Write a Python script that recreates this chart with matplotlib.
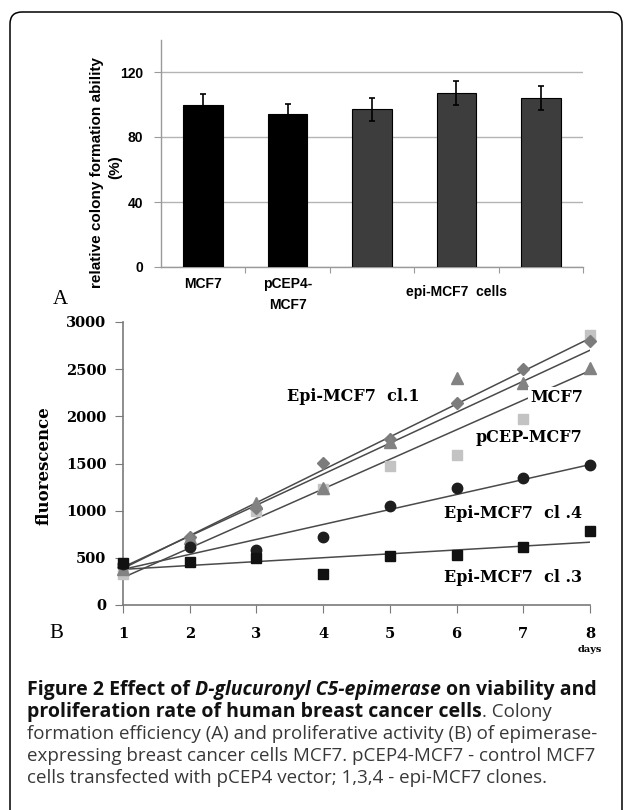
import numpy as np
import matplotlib
matplotlib.use('Agg')
import matplotlib.pyplot as plt
import matplotlib.patches as mpatches
from matplotlib.transforms import IdentityTransform, blended_transform_factory

W, H = 629, 810

# panel A: colony formation
colony = [100, 94, 97, 107, 104]
colony_err = [6.5, 6.5, 7, 7.5, 7.5]
bar_colors = ['#000000', '#000000', '#3d3d3d', '#3d3d3d', '#3d3d3d']

# panel B: proliferation (fluorescence per day)
days = [1, 2, 3, 4, 5, 6, 7, 8]
epi_cl1 = [400, 720, 1030, 1510, 1760, 2140, 2500, 2800]
mcf7 = [380, 710, 1080, 1240, 1730, 2410, 2350, 2510]
pcep_mcf7 = [330, 650, 1000, 1230, 1470, 1590, 1970, 2860]
epi_cl4 = [430, 614, 583, 720, 1050, 1240, 1345, 1483]
epi_cl3 = [445, 455, 498, 328, 520, 530, 614, 784]


def fx(px):
    return px / W


def fy(py):
    return 1 - py / H


fig = plt.figure(figsize=(6.29, 8.10), dpi=100)
fig.patch.set_facecolor('white')

# frame round the figure
frame = mpatches.FancyBboxPatch((10, -30), 612, H - 12 + 30,
                                boxstyle='round,pad=0,rounding_size=12',
                                transform=IdentityTransform(),
                                fill=False, ec='black', lw=1.1)
fig.add_artist(frame)

# ---------------- panel A ----------------
axA = fig.add_axes([fx(161), fy(267), (583 - 161) / W, (267 - 39.5) / H])
pos = np.arange(len(colony))
axA.bar(pos, colony, width=0.47, color=bar_colors, edgecolor='black',
        lw=0.8, zorder=3)
axA.errorbar(pos, colony, yerr=colony_err, fmt='none', ecolor='black',
             elinewidth=1.2, capsize=2, capthick=1.2, zorder=4)
axA.set_xlim(-0.5, 4.5)
axA.set_ylim(0, 140)
axA.set_yticks([0, 40, 80, 120])
axA.yaxis.grid(True, color='#b4b4b4', lw=1, zorder=0)
for s in ['top', 'right']:
    axA.spines[s].set_visible(False)
for s in ['left', 'bottom']:
    axA.spines[s].set_color('#9a9a9a')
    axA.spines[s].set_linewidth(1)
axA.set_xticks(np.arange(0.5, 5, 1))
axA.set_xticklabels([])
axA.tick_params(axis='x', length=4, color='#9a9a9a')
axA.tick_params(axis='y', length=5, color='#9a9a9a', pad=8)
for lab in axA.get_yticklabels():
    lab.set_fontfamily('Liberation Sans')
    lab.set_fontweight('bold')
    lab.set_fontsize(10)

trA = blended_transform_factory(axA.transData, fig.transFigure)
lab_kw = dict(family='Liberation Sans', fontweight='bold', fontsize=10,
              ha='center', va='center', transform=trA)
fig.text(0, fy(284), 'MCF7', **lab_kw)
fig.text(1, fy(284), 'pCEP4-', **lab_kw)
fig.text(1, fy(305), 'MCF7', **lab_kw)
fig.text(3, fy(292), 'epi-MCF7  cells', **lab_kw)

fig.text(fx(97), fy(173), 'relative colony formation ability', rotation=90,
         family='Liberation Sans', fontweight='bold', fontsize=11,
         ha='center', va='center')
fig.text(fx(115), fy(167), '(%)', rotation=90,
         family='Liberation Sans', fontweight='bold', fontsize=11,
         ha='center', va='center')
fig.text(fx(60), fy(300), 'A', family='Liberation Serif', fontsize=15,
         ha='center', va='center')

# ---------------- panel B ----------------
axB = fig.add_axes([fx(123), fy(605), (590 - 123) / W, (605 - 322) / H])
series = [
    (pcep_mcf7, 's', '#c3c3c3', 7),
    (epi_cl1, 'D', '#7c7c7c', 6.5),
    (mcf7, '^', '#828282', 8),
    (epi_cl4, 'o', '#1e1e1e', 7.5),
    (epi_cl3, 's', '#111111', 7),
]
xs = np.array([days[0], days[-1]])
for vals, mk, col, ms in series:
    k, b = np.polyfit(days, vals, 1)
    axB.plot(xs, k * xs + b, color='#4a4a4a', lw=1.1, zorder=2)
for vals, mk, col, ms in series:
    axB.plot(days, vals, ls='none', marker=mk, color=col, ms=ms,
             mec=col, zorder=3, clip_on=False)

axB.set_xlim(1, 8)
axB.set_ylim(0, 3000)
axB.set_xticks(days)
axB.set_yticks(np.arange(0, 3001, 500))
for s in ['top', 'right']:
    axB.spines[s].set_visible(False)
for s in ['left', 'bottom']:
    axB.spines[s].set_color('#7a7a7a')
    axB.spines[s].set_linewidth(1.2)
axB.tick_params(axis='x', length=6, color='#7a7a7a', pad=10)
axB.tick_params(axis='y', length=6, color='#7a7a7a', pad=6)
for lab in axB.get_xticklabels() + axB.get_yticklabels():
    lab.set_fontfamily('DejaVu Serif')
    lab.set_fontweight('bold')
    lab.set_fontsize(10.5)

fig.text(fx(44), fy(466), 'fluorescence', rotation=90, family='DejaVu Serif',
         fontweight='bold', fontsize=12, ha='center', va='center')
fig.text(fx(56), fy(633), 'B', family='Liberation Serif', fontsize=15,
         ha='center', va='center')
fig.text(fx(590), fy(650), 'days', family='DejaVu Serif', fontweight='bold',
         fontsize=7, ha='center', va='center')

box = dict(facecolor='white', edgecolor='none', pad=1.5)
line_kw = dict(family='DejaVu Serif', fontweight='bold', fontsize=11.5,
               va='center', zorder=5)
fig.text(fx(420), fy(396), 'Epi-MCF7  cl.1', ha='right', **line_kw)
fig.text(fx(583), fy(398), 'MCF7', ha='right', bbox=box, **line_kw)
fig.text(fx(582), fy(437), 'pCEP-MCF7', ha='right', bbox=box, **line_kw)
fig.text(fx(582), fy(513), 'Epi-MCF7  cl .4', ha='right', **line_kw)
fig.text(fx(582), fy(577), 'Epi-MCF7  cl .3', ha='right', **line_kw)

# ---------------- caption ----------------
renderer = fig.canvas.get_renderer()
BOLD = ('bold', 'normal', '#111111', 14.0)
BOLD_IT = ('bold', 'italic', '#111111', 14.0)
REG = ('normal', 'normal', '#383838', 13.5)
caption = [
    [('Figure 2 Effect of ', BOLD), ('D-glucuronyl C5-epimerase', BOLD_IT),
     (' on viability and', BOLD)],
    [('proliferation rate of human breast cancer cells', BOLD),
     ('. Colony', REG)],
    [('formation efficiency (A) and proliferative activity (B) of epimerase-', REG)],
    [('expressing breast cancer cells MCF7. pCEP4-MCF7 - control MCF7', REG)],
    [('cells transfected with pCEP4 vector; 1,3,4 - epi-MCF7 clones.', REG)],
]
cap_y = [695, 717, 739, 761, 783]


def width_of(s, kw):
    t = fig.text(0, 0, s, **kw)
    w = t.get_window_extent(renderer).width
    t.remove()
    return w


for runs, y in zip(caption, cap_y):
    x = 27
    for txt, (wt, st, col, size) in runs:
        kw = dict(family='Open Sans', fontsize=size, fontweight=wt,
                  fontstyle=st, color=col)
        sp = width_of('a a', kw) - width_of('aa', kw)
        lead = len(txt) - len(txt.lstrip(' '))
        trail = len(txt) - len(txt.rstrip(' '))
        core = txt.strip(' ')
        x += lead * sp
        t = fig.text(fx(x), fy(y), core, va='baseline', ha='left', **kw)
        x += t.get_window_extent(renderer).width + trail * sp

fig.savefig('out.png', dpi=100)
